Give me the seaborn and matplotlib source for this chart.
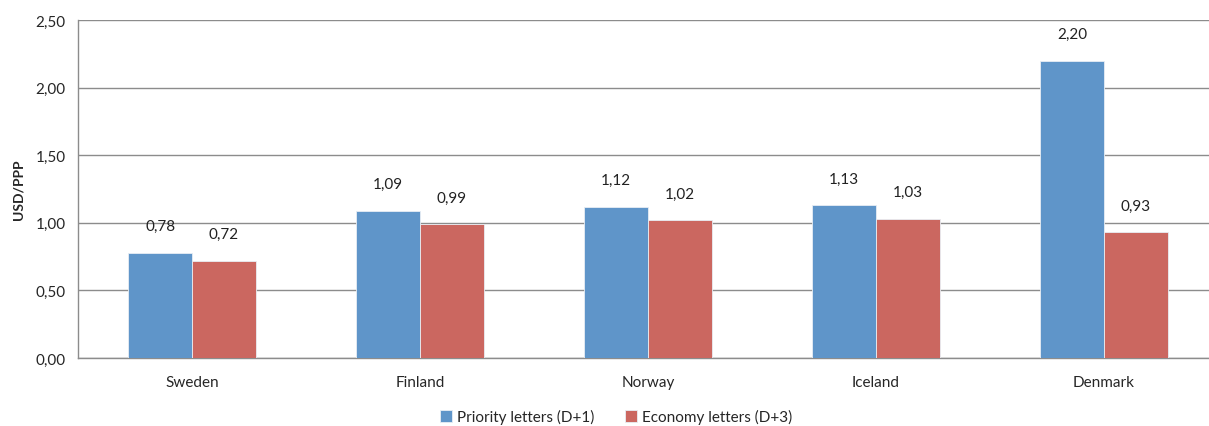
import matplotlib
matplotlib.use("Agg")
import matplotlib.pyplot as plt
import seaborn as sns
import pandas as pd
import numpy as np

countries = ["Sweden", "Finland", "Norway", "Iceland", "Denmark"]
priority = [0.78, 1.09, 1.12, 1.13, 2.20]
economy = [0.72, 0.99, 1.02, 1.03, 0.93]
series_names = ["Priority letters (D+1)", "Economy letters (D+3)"]
y_ticks = [0.0, 0.5, 1.0, 1.5, 2.0, 2.5]

sns.set_theme(style="white")
plt.rcParams["font.family"] = ["Lato", "DejaVu Sans"]

df = pd.DataFrame({
    "country": countries * 2,
    "value": priority + economy,
    "series": [series_names[0]] * len(countries) + [series_names[1]] * len(countries),
})

fig = plt.figure(figsize=(12.09, 4.27), dpi=100)
ax = fig.add_axes([78 / 1209, 68 / 427, 1140 / 1209, 338 / 427])

palette = {series_names[0]: "#5F95C9", series_names[1]: "#CB6760"}
sns.barplot(data=df, x="country", y="value", hue="series", palette=palette,
            width=0.56, saturation=1, ax=ax, legend=True, zorder=3,
            linewidth=0.6, edgecolor="#E8EEF4")

for container in ax.containers:
    vals = container.datavalues
    ax.bar_label(container, labels=[f"{v:.2f}".replace(".", ",") for v in vals],
                 padding=14, fontsize=11, color="#222222")

ax.set_xlim(-0.5, len(countries) - 0.5)
ax.set_ylim(0, 2.5)
ax.set_yticks(y_ticks)
ax.set_yticklabels([f"{t:.2f}".replace(".", ",") for t in y_ticks], fontsize=11)
ax.yaxis.grid(True, color="#8C8C8C", linewidth=1, zorder=0)
ax.set_axisbelow(True)

ax.set_xlabel("")
ax.set_ylabel("USD/PPP", fontsize=10, fontweight="bold", labelpad=8)
ax.tick_params(axis="x", length=0, pad=12, labelsize=11)
ax.set_xticks(np.arange(-0.5, len(countries), 1.0), minor=True)
ax.tick_params(axis="x", which="minor", length=5, direction="out", color="#8C8C8C", width=1)
ax.tick_params(axis="y", length=5, direction="out", color="#8C8C8C", width=1, pad=4)

for side in ["top", "right"]:
    ax.spines[side].set_visible(False)
for side in ["left", "bottom"]:
    ax.spines[side].set_color("#8C8C8C")
    ax.spines[side].set_linewidth(1)

handles, labels = ax.get_legend_handles_labels()
ax.legend(handles, labels, loc="lower center", bbox_to_anchor=(538 / 1140, -68 / 338),
          ncol=2, frameon=False, fontsize=11, handlelength=0.8, handleheight=0.8,
          handletextpad=0.3, columnspacing=2.0, borderaxespad=-0.3)

fig.savefig("out.png", dpi=100)
